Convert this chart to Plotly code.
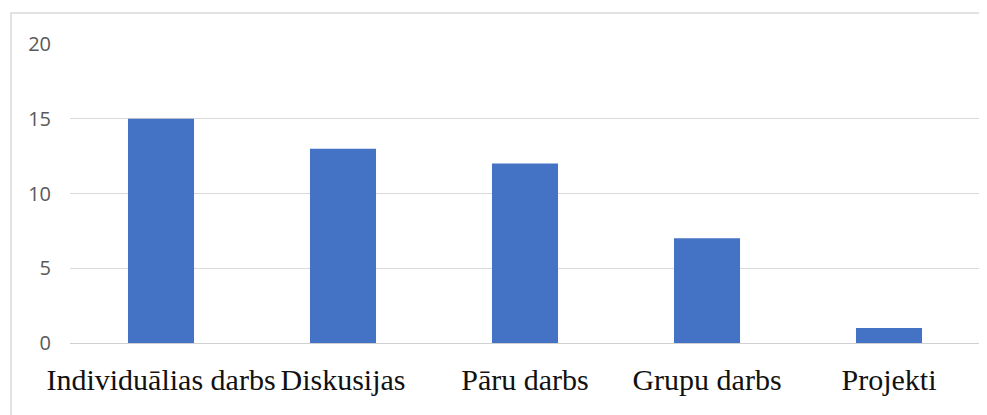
import plotly.graph_objects as go

categories = ["Individuālias darbs", "Diskusijas", "Pāru darbs", "Grupu darbs", "Projekti"]
values = [15, 13, 12, 7, 1]
y_ticks = [0, 5, 10, 15, 20]

fig = go.Figure(go.Bar(x=categories, y=values, marker=dict(color="#4472C4", line=dict(width=0)),
                       hoverinfo="x+y"))

fig.update_layout(
    width=979, height=407,
    margin=dict(l=62, r=7, t=36, b=72),
    paper_bgcolor="white", plot_bgcolor="white",
    bargap=0.637,
    showlegend=False,
    xaxis=dict(
        showgrid=False, showline=True, linecolor="#d0d0d0", linewidth=1,
        tickfont=dict(family="Liberation Serif", size=30, color="#111111"),
        ticklabelstandoff=10, zeroline=False,
    ),
    yaxis=dict(
        range=[0, 20], tickvals=y_ticks, showgrid=True, gridcolor="#d9d9d9", gridwidth=1,
        zeroline=False, showline=False,
        tickfont=dict(family="Open Sans", size=20, color="#595959"),
        ticklabelstandoff=18,
    ),
    shapes=[dict(type="rect", xref="paper", yref="paper", x0=-0.0648, x1=1.05, y0=-0.4, y1=1.1037,
                 line=dict(color="#d9d9d9", width=1.5), fillcolor="rgba(0,0,0,0)", layer="below")],
)

fig.write_html("out.html")
